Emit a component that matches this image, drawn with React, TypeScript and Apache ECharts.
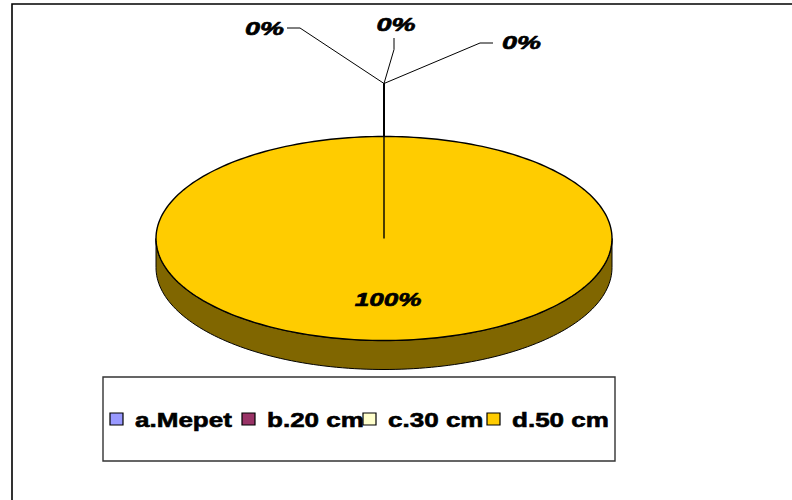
import React, { useEffect, useRef } from "react";
import * as echarts from "echarts";

// ---- data ----
const categories = ["a.Mepet", "b.20 cm", "c.30 cm", "d.50 cm"];
const values = [0, 0, 0, 100];
const topColors = ["#9999FF", "#993366", "#FFFFCC", "#FFCC00"];
const sideColors = ["#4D4D80", "#4D1A33", "#808066", "#806600"];

// ---- layout (positions / styles only) ----
const PIE = { cx: 384, cy: 238.5, rx: 228, ry: 102, depth: 29 };
const STEM_RISE = 53;
const ZERO_LABELS = [
  { dx: -119.5, dy: -55, leader: [[-97, -55.5], [-84, -55.5]] },
  { dx: 12, dy: -58.5, leader: [[10, -45.5], [10, -34]] },
  { dx: 137.5, dy: -40.5, leader: [[109, -40.5], [96, -40.5]] },
];
const LEGEND_X = [110, 242, 363, 487];
const LABEL_FONT = {
  fontStyle: "italic",
  fontWeight: "bold",
  fontSize: 18,
  fontFamily: "Liberation Sans, Arial, sans-serif",
  stroke: "#000",
  lineWidth: 0.6,
};

export default function App() {
  const ref = useRef<HTMLDivElement>(null);
  useEffect(() => {
    document.body.style.margin = "0";
    const chart = echarts.init(ref.current!, null, { renderer: "svg" });
    const total = values.reduce((a, b) => a + b, 0);

    const pt = (t: number, dy = 0) => {
      const r = (t * Math.PI) / 180;
      return [PIE.cx + PIE.rx * Math.cos(r), PIE.cy + PIE.ry * Math.sin(r) + dy];
    };
    const arc = (a: number, b: number, dy = 0) => {
      const pts: number[][] = [];
      const n = Math.max(2, Math.ceil((b - a) / 1.5));
      for (let k = 0; k <= n; k++) pts.push(pt(a + ((b - a) * k) / n, dy));
      return pts;
    };

    const renderItem = (params: any, api: any) => {
      const i = params.dataIndex;
      const v = api.value(0) as number;
      let cum = 0;
      for (let k = 0; k < i; k++) cum += values[k];
      const t0 = -90 + (360 * cum) / total;
      const t1 = t0 + (360 * v) / total;
      const pctText = Math.round((v / total) * 100) + "%";
      const children: any[] = [];
      if (v > 0) {
        const a = Math.max(t0, 0);
        const b = Math.min(t1, 180);
        if (b > a) {
          const top = arc(a, b);
          const bottom = arc(a, b, PIE.depth).reverse();
          children.push({
            type: "polygon",
            shape: { points: top.concat(bottom) },
            style: { fill: sideColors[i], stroke: "#000", lineWidth: 1 },
          });
        }
        children.push({
          type: "polygon",
          shape: { points: [[PIE.cx, PIE.cy]].concat(arc(t0, t1)) },
          style: { fill: topColors[i], stroke: "#000", lineWidth: 1.4 },
        });
        const mid = ((t0 + t1) / 2) * (Math.PI / 180);
        children.push({
          type: "text",
          x: PIE.cx + PIE.rx * 0.6 * Math.cos(mid) + 4,
          y: PIE.cy + PIE.ry * 0.6 * Math.sin(mid),
          scaleX: 1.45,
          style: { text: pctText, ...LABEL_FONT, fill: "#000", align: "center", verticalAlign: "middle" },
        });
      } else {
        const edge = pt(t0);
        const sx = edge[0];
        const sy = edge[1] - STEM_RISE;
        const lay = ZERO_LABELS[i % ZERO_LABELS.length];
        children.push({
          type: "line",
          shape: { x1: sx, y1: sy, x2: edge[0], y2: edge[1] },
          style: { stroke: "#000", lineWidth: 2 },
        });
        children.push({
          type: "polyline",
          shape: { points: lay.leader.map((p) => [sx + p[0], sy + p[1]]).concat([[sx, sy]]) },
          style: { stroke: "#000", lineWidth: 1, fill: null },
        });
        children.push({
          type: "text",
          x: sx + lay.dx,
          y: sy + lay.dy,
          scaleX: 1.5,
          style: { text: pctText, ...LABEL_FONT, fill: "#000", align: "center", verticalAlign: "middle" },
        });
      }
      return { type: "group", children };
    };

    const legendEls: any[] = [];
    categories.forEach((c, i) => {
      legendEls.push({
        type: "rect",
        shape: { x: LEGEND_X[i], y: 413, width: 13, height: 12 },
        style: { fill: topColors[i], stroke: "#000", lineWidth: 1.2 },
      });
      legendEls.push({
        type: "text",
        x: LEGEND_X[i] + 25,
        y: 420,
        scaleX: 1.24,
        style: {
          text: c,
          fontWeight: "bold",
          fontSize: 21,
          fontFamily: "Liberation Sans, Arial, sans-serif",
          fill: "#000",
          stroke: "#000",
          lineWidth: 0.6,
          align: "left",
          verticalAlign: "middle",
        },
      });
    });

    chart.setOption({
      animation: false,
      backgroundColor: "#fff",
      graphic: [
        {
          type: "rect",
          shape: { x: 12, y: 4, width: 800, height: 520 },
          style: { fill: "none", stroke: "#000", lineWidth: 1.6 },
          z: 0,
        },
        {
          type: "rect",
          shape: { x: 103, y: 377, width: 512, height: 84 },
          style: { fill: "#fff", stroke: "#333", lineWidth: 1.4 },
        },
        ...legendEls,
      ],
      series: [
        {
          type: "custom",
          coordinateSystem: "none",
          renderItem,
          data: values.map((v, i) => ({ name: categories[i], value: [v] })),
        },
      ],
    });
    return () => chart.dispose();
  }, []);
  return <div ref={ref} style={{ width: 792, height: 500 }} />;
}
